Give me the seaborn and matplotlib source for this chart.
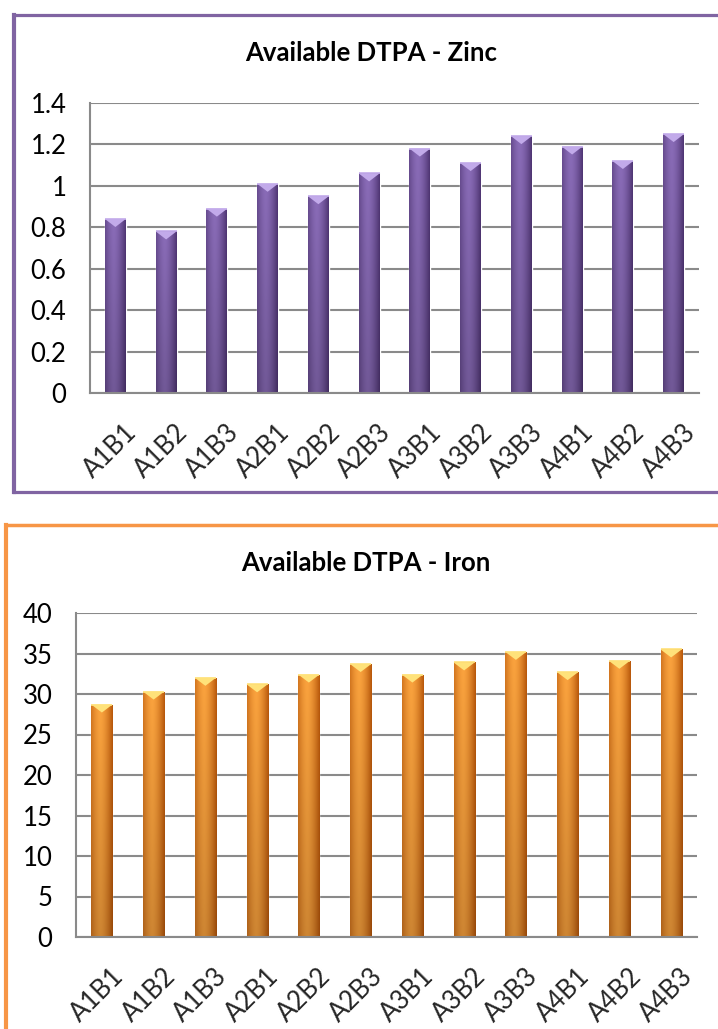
import numpy as np
import pandas as pd
import matplotlib
matplotlib.use("Agg")
import matplotlib.pyplot as plt
import matplotlib.transforms as mtransforms
from matplotlib.patches import Polygon
from matplotlib.lines import Line2D
from matplotlib.ticker import FixedLocator
import seaborn as sns

# ---------------- data ----------------
categories = ["A1B1", "A1B2", "A1B3", "A2B1", "A2B2", "A2B3",
              "A3B1", "A3B2", "A3B3", "A4B1", "A4B2", "A4B3"]
zinc_values = [0.84, 0.78, 0.89, 1.01, 0.95, 1.06, 1.18, 1.11, 1.24, 1.19, 1.12, 1.25]
iron_values = [28.7, 30.3, 32.0, 31.2, 32.4, 33.7, 32.4, 33.9, 35.2, 32.7, 34.1, 35.5]
zinc_ticks = [0, 0.2, 0.4, 0.6, 0.8, 1.0, 1.2, 1.4]
zinc_tick_labels = ["0", "0.2", "0.4", "0.6", "0.8", "1", "1.2", "1.4"]
iron_ticks = [0, 5, 10, 15, 20, 25, 30, 35, 40]
iron_tick_labels = ["0", "5", "10", "15", "20", "25", "30", "35", "40"]
zinc_title = "Available DTPA - Zinc"
iron_title = "Available DTPA - Iron"

# ---------------- figure ----------------
W, H, DPI = 718, 1029, 100
sns.set_style("white")
plt.rcParams["font.family"] = ["Lato", "DejaVu Sans"]
fig = plt.figure(figsize=(W / DPI, H / DPI), dpi=DPI)
fig.patch.set_facecolor("white")

GRID = "#8a8a8a"
FS = 18.5


def px_axes(left, top, right, bottom):
    return fig.add_axes([left / W, 1 - bottom / H, (right - left) / W, (bottom - top) / H])


def hex2rgb(h):
    h = h.lstrip("#")
    return np.array([int(h[i:i + 2], 16) / 255 for i in (0, 2, 4)])


def style_bars(ax, edge_col, mid_col, cap_col, ymax, ax_h_px):
    e = hex2rgb(edge_col)
    m = hex2rgb(mid_col)
    nx, ny = 60, 100
    xs = np.linspace(0, 1, nx)
    prof = 1 - np.clip(np.abs((xs - 0.42) / 0.58), 0, 1) ** 1.6
    row = e[None, :] + (m - e)[None, :] * prof[:, None]
    vert = np.linspace(0.82, 1.0, ny)  # bottom darker
    img = row[None, :, :] * vert[:, None, None]
    img = np.clip(img, 0, 1)
    cap_h = 8 * ymax / ax_h_px
    for p in list(ax.patches):
        x0 = p.get_x()
        w = p.get_width()
        top = p.get_height()
        im = ax.imshow(img, extent=[x0, x0 + w, 0, top], origin="lower",
                       aspect="auto", zorder=2.5, interpolation="bilinear")
        im.set_clip_path(p)
        tri = Polygon([[x0, top], [x0 + w, top], [x0 + w * 0.5, top - cap_h]],
                      closed=True, facecolor=cap_col, edgecolor="none", zorder=2.6)
        ax.add_patch(tri)
        ax.plot([x0, x0 + w], [top, top], color=cap_col, lw=1.2, zorder=2.7,
                solid_capstyle="butt")


def draw_panel(ax, values, ticks, tick_labels, color, edge_col, mid_col, cap_col, ax_h_px):
    df = pd.DataFrame({"cat": categories, "val": values})
    sns.barplot(data=df, x="cat", y="val", order=categories, color=color,
                saturation=1, width=0.41, ax=ax, zorder=2)
    ymax = ticks[-1]
    style_bars(ax, edge_col, mid_col, cap_col, ymax, ax_h_px)
    ax.set_xlim(-0.5, len(categories) - 0.5)
    ax.set_ylim(0, ymax)
    ax.set_xlabel("")
    ax.set_ylabel("")
    ax.set_yticks(ticks)
    ax.set_yticklabels(tick_labels)
    ax.yaxis.grid(True, color=GRID, lw=1.5)
    ax.set_axisbelow(True)
    for s in ["top", "right"]:
        ax.spines[s].set_visible(False)
    for s in ["left", "bottom"]:
        ax.spines[s].set_color(GRID)
        ax.spines[s].set_linewidth(1.5)
    ax.tick_params(axis="y", length=6, width=1.5, color=GRID, labelsize=FS,
                   pad=11, labelcolor="black")
    ax.xaxis.set_minor_locator(FixedLocator(np.arange(-0.5, len(categories), 1.0)))
    ax.tick_params(axis="x", which="minor", length=6, width=1.5, color=GRID)
    ax.tick_params(axis="x", which="major", length=0, labelsize=FS, pad=19)
    offset = mtransforms.ScaledTranslation(9 / DPI, 0, fig.dpi_scale_trans)
    for lab in ax.get_xticklabels():
        lab.set_rotation(45)
        lab.set_ha("right")
        lab.set_va("top")
        lab.set_rotation_mode("anchor")
        lab.set_transform(lab.get_transform() + offset)


# top panel (zinc)
ax1 = px_axes(90, 103, 699, 393)
draw_panel(ax1, zinc_values, zinc_ticks, zinc_tick_labels,
           "#7a5ba6", "#4f3573", "#8a6cb8", "#c2aaea", 290)
fig.text(371 / W, 1 - 53 / H, zinc_title, ha="center", va="center",
         fontsize=18.5, fontweight="bold", color="black")

# bottom panel (iron)
ax2 = px_axes(76, 613, 697, 937)
draw_panel(ax2, iron_values, iron_ticks, iron_tick_labels,
           "#f08a22", "#b8570a", "#fba33e", "#ffe27a", 324)
fig.text(366 / W, 1 - 563 / H, iron_title, ha="center", va="center",
         fontsize=18.5, fontweight="bold", color="black")

# panel borders
PURPLE = "#8064a2"
ORANGE = "#f79646"
def fig_line(xs, ys, color, lw):
    fig.add_artist(Line2D([x / W for x in xs], [1 - y / H for y in ys],
                          transform=fig.transFigure, color=color, lw=lw,
                          solid_capstyle="projecting"))

fig_line([14, 14], [15, 492], PURPLE, 3.0)
fig_line([14, 730], [15, 15], PURPLE, 2.3)
fig_line([14, 730], [492, 492], PURPLE, 2.3)
fig_line([6, 6], [525, 1040], ORANGE, 3.0)
fig_line([6, 730], [525, 525], ORANGE, 2.5)

fig.savefig("out.png", dpi=DPI, facecolor="white")
